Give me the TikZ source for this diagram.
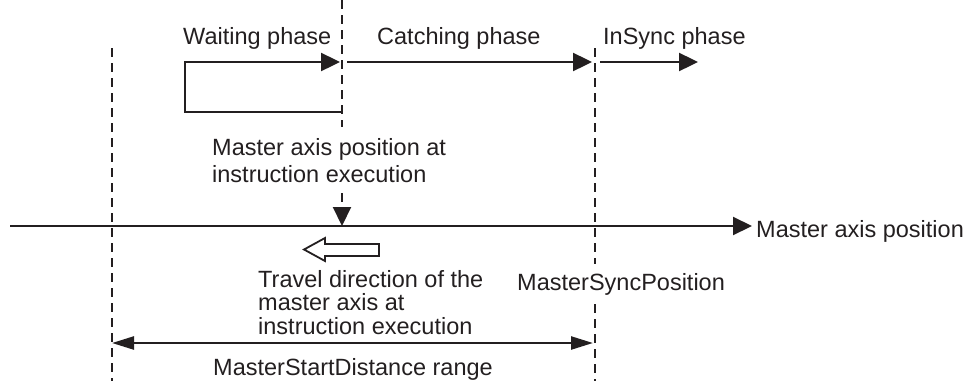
\documentclass[tikz,border=0pt]{standalone}
\usepackage{fontspec}
\setmainfont{Liberation Sans}
\usetikzlibrary{arrows.meta}
\definecolor{ink}{HTML}{231F20}

\begin{document}
\begin{tikzpicture}[
  x=1pt, y=-1pt,
  txt/.style={inner sep=0pt, font=\fontsize{23.5}{27}\selectfont, text=ink, align=left},
  guide/.style={draw=ink, line width=2.1pt, dash pattern=on 9pt off 6pt},
  phase/.style={-{Triangle[length=19pt, width=18pt]}, line width=2.4pt, draw=ink},
  axisline/.style={-{Triangle[length=19pt, width=18pt]}, line width=2.1pt, draw=ink},
  spanline/.style={{Triangle[length=22pt, width=13pt]}-{Triangle[length=22pt, width=13pt]}, line width=2.4pt, draw=ink},
]
  \useasboundingbox (0,0) rectangle (969,381);

  % phase labels
  \node[txt, anchor=base west] (wait lbl) at (183,44) {Waiting phase};
  \node[txt, anchor=base west] (catch lbl) at (377,44) {Catching phase};
  \node[txt, anchor=base west] (insync lbl) at (603,44) {InSync phase};

  % phase arrows
  \coordinate (wait corner) at (342,112);
  \coordinate (wait start) at (185,62);
  \coordinate (wait end) at (340,62);
  \coordinate (catch start) at (347,62);
  \coordinate (catch end) at (592,62);
  \coordinate (insync start) at (600,62);
  \coordinate (insync end) at (698,62);
  \draw[phase] (wait corner) -| (wait start) -- (wait end);
  \draw[phase] (catch start) -- (catch end);
  \draw[phase] (insync start) -- (insync end);

  % guides
  \coordinate (start top) at (112,48);
  \coordinate (start bot) at (112,381);
  \coordinate (exec top) at (342,0);
  \coordinate (exec pt) at (342,226);
  \coordinate (sync top) at (595,48);
  \coordinate (sync bot) at (595,381);

  \node[txt, anchor=base west, inner ysep=11pt] (exec) at (212,182) {Master axis position at\\instruction execution};
  \node[txt, anchor=base west, inner ysep=9pt] (sync lbl) at (517,290) {MasterSyncPosition};

  \draw[guide] (start top) -- (start bot);
  \draw[guide] (exec top) -- (exec.north -| exec top);
  \draw[guide, -{Triangle[length=19pt, width=18pt]}] (exec.south -| exec top) -- (exec pt);
  \draw[guide] (sync top) -- (sync lbl.north -| sync top);
  \draw[guide] (sync lbl.south -| sync top) -- (sync bot);

  % master axis
  \coordinate (axis start) at (10,226);
  \coordinate (axis end) at (752,226);
  \draw[axisline] (axis start) -- (axis end);
  \node[txt, anchor=base west] (axis lbl) at (756,237) {Master axis position};

  % travel direction
  \draw[ink, line width=1.8pt, line join=miter]
    (304,249.5) -- (325,238) -- (325,244) -- (379,244) -- (379,256) -- (325,256) -- (325,261) -- cycle;
  \node[txt, anchor=base west, font=\fontsize{23.5}{23.5}\selectfont] (travel) at (258,334)
    {Travel direction of the\\master axis at\\instruction execution};

  % start distance range
  \coordinate (range start) at (112,343);
  \coordinate (range end) at (593,343);
  \draw[spanline] (range start) -- (range end);
  \node[txt, anchor=base] (range lbl) at (353,375) {MasterStartDistance range};
\end{tikzpicture}
\end{document}
